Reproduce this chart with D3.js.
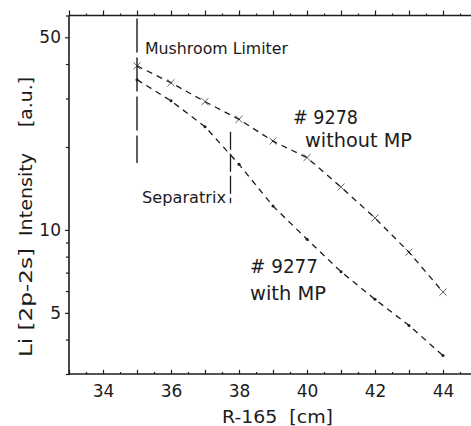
<!DOCTYPE html>
<html>
<head>
<meta charset="utf-8">
<script src="https://cdn.jsdelivr.net/npm/d3@7/dist/d3.min.js"></script>
<style>
  html, body { margin: 0; padding: 0; background: #fff; }
  svg { display: block; }
  text { font-family: "DejaVu Sans", sans-serif; fill: #1c1c1c; }
</style>
</head>
<body>
<svg id="chart" width="471" height="426"></svg>
<script>
// Radial position R-165 (cm)
const radius = [35, 36, 37, 38, 39, 40, 41, 42, 43, 44];
// Li [2p-2s] line intensity, shot #9278 (without MP)
const shot9278 = [39.4, 34.2, 29.2, 25.2, 21.0, 18.3, 14.3, 11.05, 8.3, 5.95];
// Li [2p-2s] line intensity, shot #9277 (with MP)
const shot9277 = [35.1, 29.4, 23.7, 17.3, 12.2, 9.25, 7.05, 5.6, 4.5, 3.5];

// Axis ticks
const xLabelTicks = [34, 36, 38, 40, 42, 44];
const xMajorTicks = [33, 34, 35, 36, 37, 38, 39, 40, 41, 42, 43, 44, 45];
const xMinorTicks = [33.5, 34.5, 35.5, 36.5, 37.5, 38.5, 39.5, 40.5, 41.5, 42.5, 43.5, 44.5];
const yLabelTicks = [5, 10, 50];
const yMinorTicks = [3, 4, 6, 7, 8, 9, 20, 30, 40, 60];

// Vertical markers (x position, y extent in intensity units)
const limiter = { x: 35, y0: 60, y1: 17.5 };
const separatrix = { x: 37.75, y0: 22.7, y1: 12.5 };

const ink = "#1c1c1c";
const svg = d3.select("#chart");

const x = d3.scaleLinear().domain([33, 45]).range([69, 477]);
const y = d3.scaleLog().domain([3, 60]).range([374, 15.5]);

// Frame lines
const frame = svg.append("g").attr("stroke", ink).attr("stroke-width", 1.6).attr("fill", "none");
frame.append("line").attr("x1", x(33)).attr("x2", 471).attr("y1", y(60)).attr("y2", y(60));
frame.append("line").attr("x1", x(33)).attr("x2", 471).attr("y1", y(3)).attr("y2", y(3));
frame.append("line").attr("x1", x(33)).attr("x2", x(33)).attr("y1", y(60)).attr("y2", y(3) + 1);

function styleAxis(g) {
  g.select(".domain").remove();
  g.selectAll(".tick line").attr("stroke", ink).attr("stroke-width", 1.2);
  g.selectAll("text").attr("font-size", 17).attr("fill", ink)
    .attr("font-family", "DejaVu Sans, sans-serif");
}

// Top axis: outward ticks
svg.append("g").attr("transform", `translate(0,${y(60)})`)
  .call(d3.axisTop(x).tickValues(xMajorTicks).tickSize(5).tickFormat(""))
  .call(styleAxis);
svg.append("g").attr("transform", `translate(0,${y(60)})`)
  .call(d3.axisTop(x).tickValues(xMinorTicks).tickSize(2).tickFormat(""))
  .call(styleAxis);

// Bottom axis: inward ticks + labels
svg.append("g").attr("transform", `translate(0,${y(3)})`)
  .call(d3.axisBottom(x).tickValues(xMajorTicks).tickSizeInner(-4).tickSizeOuter(0).tickFormat(""))
  .call(styleAxis);
svg.append("g").attr("transform", `translate(0,${y(3)})`)
  .call(d3.axisBottom(x).tickValues(xMinorTicks).tickSizeInner(-2).tickSizeOuter(0).tickFormat(""))
  .call(styleAxis);
svg.append("g").attr("transform", `translate(0,${y(3)})`)
  .call(d3.axisBottom(x).tickValues(xLabelTicks).tickSize(0).tickPadding(10.5).tickFormat(d3.format("d")))
  .call(styleAxis);

// Left axis: outward ticks + labels
svg.append("g").attr("transform", `translate(${x(33)},0)`)
  .call(d3.axisLeft(y).tickValues(yMinorTicks).tickSize(3).tickFormat(""))
  .call(styleAxis);
svg.append("g").attr("transform", `translate(${x(33)},0)`)
  .call(d3.axisLeft(y).tickValues(yLabelTicks).tickSize(4).tickPadding(4).tickFormat(d3.format("d")))
  .call(styleAxis);

// Vertical marker lines
svg.append("line")
  .attr("x1", x(limiter.x)).attr("x2", x(limiter.x))
  .attr("y1", y(limiter.y0) + 3).attr("y2", y(limiter.y1))
  .attr("stroke", ink).attr("stroke-width", 1.4).attr("stroke-dasharray", "34 5");
svg.append("line")
  .attr("x1", x(separatrix.x)).attr("x2", x(separatrix.x))
  .attr("y1", y(separatrix.y0)).attr("y2", y(separatrix.y1))
  .attr("stroke", ink).attr("stroke-width", 1.3).attr("stroke-dasharray", "18 4");

// Dashed profile curves
const line = d3.line().x(d => x(d[0])).y(d => y(d[1]));
const withoutMP = radius.map((r, i) => [r, shot9278[i]]);
const withMP = radius.map((r, i) => [r, shot9277[i]]);

[withoutMP, withMP].forEach(series => {
  svg.append("path").datum(series)
    .attr("d", line)
    .attr("fill", "none").attr("stroke", ink)
    .attr("stroke-width", 1.3).attr("stroke-dasharray", "6 5");
});

// Cross markers (#9278)
const cross = d3.symbol().type(d3.symbolX).size(34);
svg.append("g").selectAll("path").data(withoutMP).join("path")
  .attr("transform", d => `translate(${x(d[0])},${y(d[1])})`)
  .attr("d", cross).attr("fill", ink).attr("stroke", ink).attr("stroke-width", 0.7);

// Dot markers (#9277)
svg.append("g").selectAll("circle").data(withMP).join("circle")
  .attr("cx", d => x(d[0])).attr("cy", d => y(d[1])).attr("r", 1.5).attr("fill", ink);

// Labels
function label(txt, px, py, size, len) {
  return svg.append("text").attr("x", px).attr("y", py)
    .attr("font-size", size).attr("textLength", len)
    .attr("lengthAdjust", "spacingAndGlyphs").text(txt);
}
label("Mushroom Limiter", 145, 54, 15, 143);
label("Separatrix", 142, 203, 15, 84);
label("# 9278", 293, 124, 19, 65);
label("without MP", 305, 147, 19, 107);
label("# 9277", 250, 273, 19, 68);
label("with MP", 250, 300, 19, 76);
label("R-165  [cm]", 222, 423, 18, 111).attr("xml:space", "preserve");

// Rotated y-axis title
const yTitle = svg.append("g").attr("transform", "translate(32,0) rotate(-90)");
[["Li [2p-2s]", 357, 109], ["Intensity", 236, 83], ["[a.u.]", 127, 50]].forEach(([t, start, len]) => {
  yTitle.append("text").attr("x", -start).attr("y", 0)
    .attr("font-size", 18).attr("textLength", len)
    .attr("lengthAdjust", "spacingAndGlyphs").text(t);
});
</script>
</body>
</html>
